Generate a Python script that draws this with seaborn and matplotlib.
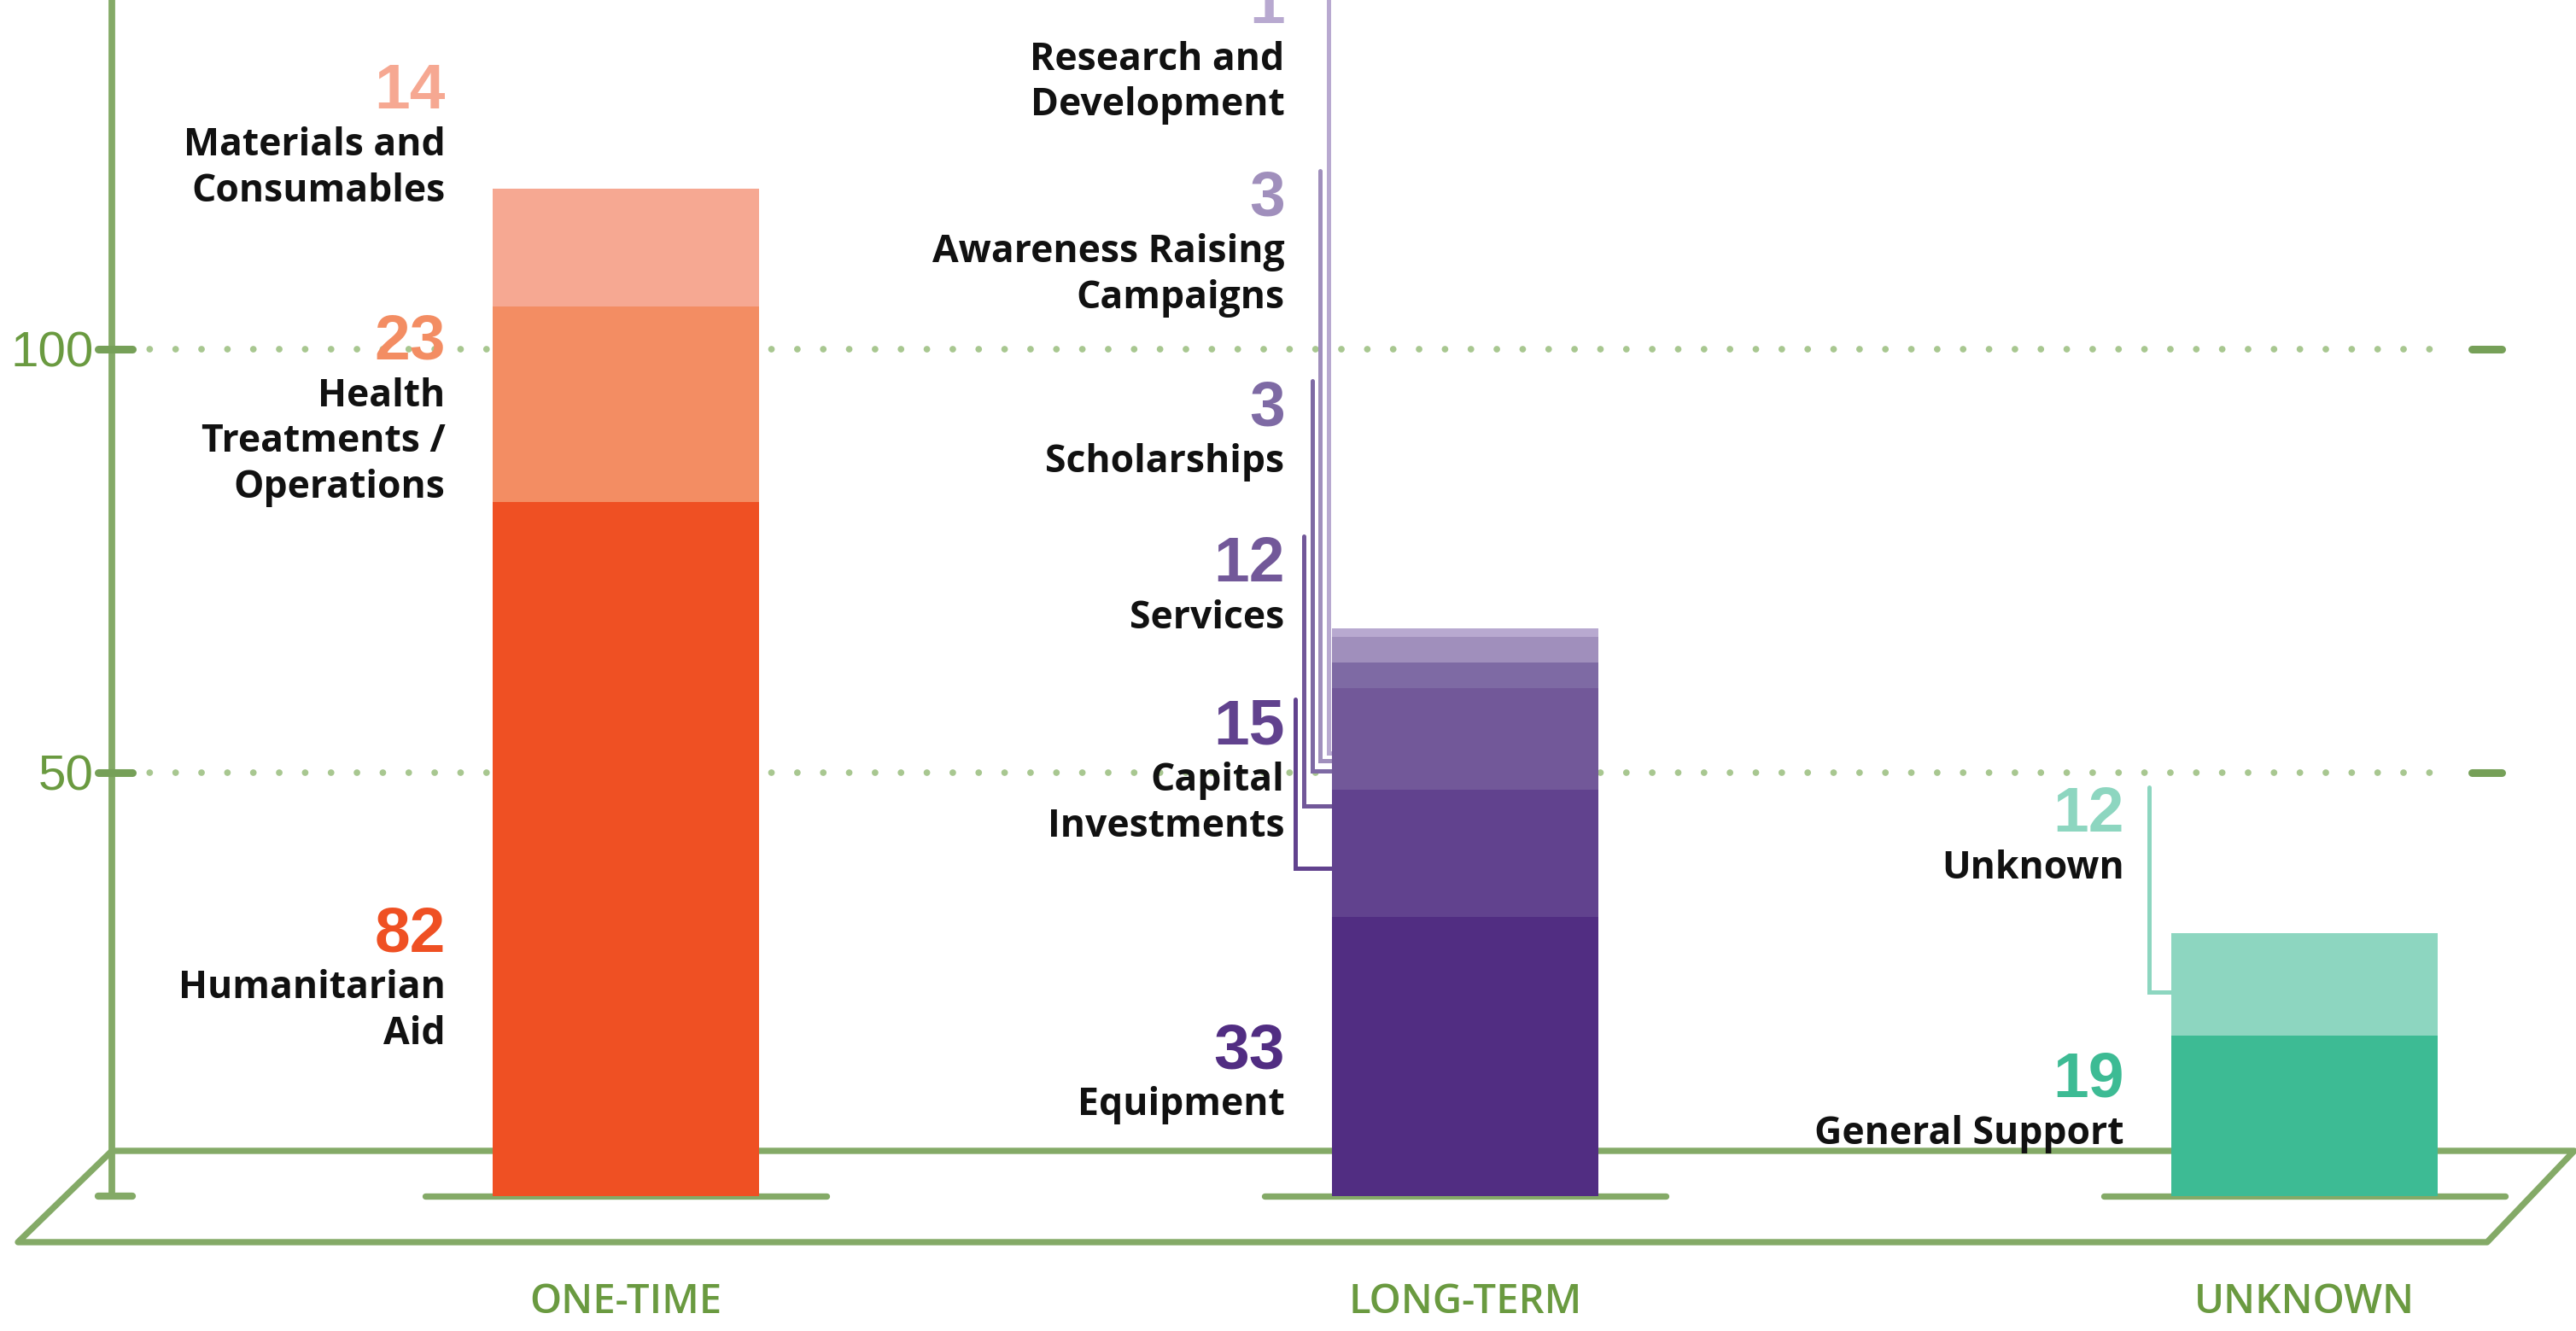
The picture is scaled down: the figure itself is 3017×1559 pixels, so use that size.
import numpy as np
import pandas as pd
import seaborn as sns
import matplotlib.pyplot as plt

categories = ["ONE-TIME", "LONG-TERM", "UNKNOWN"]

one_time_names = ["Humanitarian\nAid", "Health\nTreatments /\nOperations", "Materials and\nConsumables"]
one_time_values = [82, 23, 14]

long_term_names = ["Equipment", "Capital\nInvestments", "Services", "Scholarships",
                   "Awareness Raising\nCampaigns", "Research and\nDevelopment"]
long_term_values = [33, 15, 12, 3, 3, 1]

unknown_names = ["General Support", "Unknown"]
unknown_values = [19, 12]

y_ticks = [50, 100]

# colours, bottom segment first
one_time_colors = ["#EF5023", "#F38D63", "#F6A892"]
long_term_colors = ["#512D82", "#61428E", "#725899", "#7E6AA4", "#A08FBC", "#B8A9D0"]
unknown_colors = ["#3DBB94", "#8DD6C0"]

# baseline of each number label (data units), as placed in the original
one_time_label_y = [28.9, 98.8, 128.4]
long_term_label_y = [15.1, 53.4, 72.6, 91.0, 115.8, 138.5]
unknown_label_y = [11.7, 43.0]

# leader lines: segment index, x offset from bar centre, y where it meets the bar
long_term_leaders = [(1, -0.2024, 38.7), (2, -0.1923, 46.1), (3, -0.1821, 50.2),
                     (4, -0.1730, 51.4), (5, -0.1628, 52.3)]
unknown_leaders = [(1, -0.1852, 24.1)]

GREEN = "#84AA67"
GREEN_DARK = "#76A058"
DOT = "#A8C790"
LABEL_GREEN = "#6A9A40"
BAR_W = 0.317
LABEL_DX = -0.215
DIGIT_H = 5.3

sns.set_theme(style="white")
plt.rcParams["font.family"] = ["Open Sans", "DejaVu Sans"]

name_font = dict(family=["Open Sans SemiBold", "Open Sans", "DejaVu Sans"], weight="bold", size=32)
num_font = dict(family=["Liberation Sans Narrow", "Liberation Sans", "DejaVu Sans"], weight="bold", size=54)
tick_font = dict(family=["Liberation Sans Narrow", "Liberation Sans", "DejaVu Sans"], weight="normal", size=42)

groups = [
    ("ONE-TIME", one_time_names, one_time_values, one_time_colors, one_time_label_y, []),
    ("LONG-TERM", long_term_names, long_term_values, long_term_colors, long_term_label_y, long_term_leaders),
    ("UNKNOWN", unknown_names, unknown_values, unknown_colors, unknown_label_y, unknown_leaders),
]

rows = []
for cat, names, vals, cols, label_y, _ in groups:
    tops = np.cumsum(vals)
    for i in range(len(vals)):
        rows.append({"category": cat, "name": names[i], "value": vals[i], "top": tops[i],
                     "color": cols[i], "label_y": label_y[i]})
df = pd.DataFrame(rows)

fig = plt.figure(figsize=(30.17, 15.59), dpi=100)
ax = fig.add_axes([0, 0, 1, 1])

# stacked bars: draw cumulative heights, tallest first
for _, r in df.sort_values("top", ascending=False).iterrows():
    sns.barplot(x=[r["category"]], y=[r["top"]], order=categories, color=r["color"],
                saturation=1, width=BAR_W, linewidth=0, errorbar=None, zorder=3, ax=ax)

# floor / platform
ax.plot([-0.6124, 2.3215, 2.2177, -0.7243, -0.6124], [5.34, 5.34, -5.44, -5.44, 5.34],
        color=GREEN, lw=5.3, solid_joinstyle="round", solid_capstyle="round", zorder=1)

# y axis
ax.plot([-0.6124, -0.6124], [0, 150], color=GREEN, lw=5.6, zorder=1)
ax.plot([-0.6286, -0.5879], [0, 0], color=GREEN, lw=6, solid_capstyle="round", zorder=1)

for i in range(len(categories)):
    ax.plot([i - 0.239, i + 0.239], [0, 0], color=GREEN, lw=5.3, solid_capstyle="round", zorder=2)

for v in y_ticks:
    ax.plot([-0.598, 2.174], [v, v], color=DOT, lw=5.6, ls=(0, (0.001, 3.9)),
            dash_capstyle="round", zorder=1.5)
    ax.plot([-0.6286, -0.5879], [v, v], color=GREEN_DARK, lw=6.5, solid_capstyle="round", zorder=1.6)
    ax.plot([2.199, 2.235], [v, v], color=GREEN_DARK, lw=6.5, solid_capstyle="round", zorder=1.6)
    ax.annotate(str(v), xy=(-0.6338, v), xytext=(0, -15), textcoords="offset points",
                ha="right", va="baseline", color=LABEL_GREEN, **tick_font)

# leader lines
for cat, names, vals, cols, label_y, leaders in groups:
    xi = categories.index(cat)
    for seg, dx, y_end in leaders:
        ax.plot([xi + dx, xi + dx, xi - BAR_W / 2 + 0.01],
                [label_y[seg] + DIGIT_H, y_end, y_end],
                color=cols[seg], lw=3.6, solid_joinstyle="miter", zorder=2.5)

# number + name labels
for _, r in df.iterrows():
    x = categories.index(r["category"]) + LABEL_DX
    ax.text(x, r["label_y"], str(r["value"]), ha="right", va="baseline",
            color=r["color"], zorder=4, **num_font)
    ax.annotate(r["name"], xy=(x, r["label_y"]), xytext=(0, -15), textcoords="offset points",
                ha="right", va="top", color="#111111", linespacing=1.25, zorder=4, **name_font)

for i, cat in enumerate(categories):
    ax.text(i, -13.8, cat, ha="center", va="baseline", color=LABEL_GREEN,
            family=["Open Sans SemiBold", "Open Sans", "DejaVu Sans"], weight="semibold", size=34)

ax.set_xlim(-0.7457, 2.3236)
ax.set_ylim(-15.93, 141.23)
ax.axis("off")

fig.savefig("out.png", dpi=100)
